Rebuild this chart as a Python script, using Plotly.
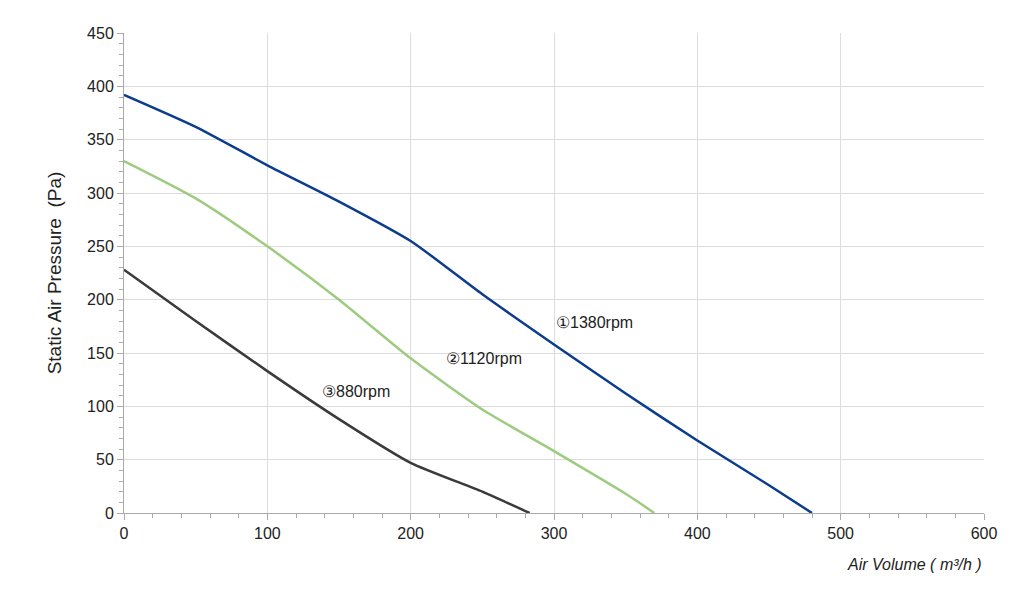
import plotly.graph_objects as go

x_1380 = [0, 50, 100, 150, 200, 250, 300, 350, 400, 450, 480]
y_1380 = [392, 362, 326, 292, 255, 205, 158, 112, 68, 26, 0]
x_1120 = [0, 50, 100, 150, 200, 250, 300, 350, 370]
y_1120 = [330, 295, 250, 200, 145, 97, 58, 18, 0]
x_880 = [0, 50, 100, 150, 200, 250, 283]
y_880 = [228, 180, 133, 88, 47, 20, 0]

labels = ["①1380rpm", "②1120rpm", "③880rpm"]
label_x = [300, 223, 137]
label_y = [179, 145, 114]

fig = go.Figure()
for xs, ys, c in [(x_1380, y_1380, "#0b3d8c"), (x_1120, y_1120, "#9dcb7f"), (x_880, y_880, "#3a3a3a")]:
    fig.add_trace(go.Scatter(x=xs, y=ys, mode="lines", line=dict(color=c, width=2.5, shape="spline", smoothing=0.6),
                             showlegend=False))

for t, lx, ly in zip(labels, label_x, label_y):
    fig.add_annotation(x=lx, y=ly, text=t, showarrow=False, xanchor="left", font=dict(size=16, color="#222"))

fig.add_annotation(xref="paper", yref="paper", x=1.0, y=-0.13, xanchor="right", showarrow=False,
                   text="<i>Air Volume ( m³/h )</i>", font=dict(size=16, color="#222"))

axis = dict(showgrid=True, gridcolor="#dcdcdc", showline=True, linecolor="#aaa", ticks="outside",
            tickcolor="#aaa", ticklen=6, tickfont=dict(size=16, color="#222"), zeroline=False)
fig.update_xaxes(range=[0, 600], dtick=100, minor=dict(dtick=20, ticks="outside", ticklen=4, tickcolor="#aaa"), **axis)
fig.update_yaxes(range=[0, 450], dtick=50, minor=dict(dtick=10, ticks="outside", ticklen=4, tickcolor="#aaa"),
                 title=dict(text="Static Air Pressure  (Pa)", font=dict(size=19, color="#222"), standoff=20), **axis)
fig.update_layout(width=1024, height=607, margin=dict(l=116, r=48, t=25, b=102),
                  plot_bgcolor="white", paper_bgcolor="white", font=dict(family="Liberation Sans, Arial"))
fig.write_html("out.html")
